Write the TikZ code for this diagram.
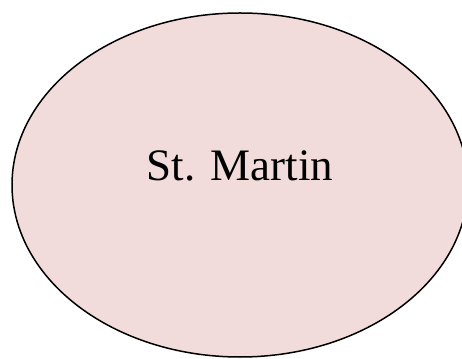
\documentclass[tikz,border=0pt]{standalone}
\usepackage{fontspec}
\setmainfont{Liberation Serif}
\usetikzlibrary{shapes.geometric, positioning}

\tikzset{
	island/.style={shape=ellipse, draw, line width=1.5pt, fill=islandpink, minimum width=456pt, minimum height=344pt, inner sep=0pt},
	islandname/.style={font=\fontsize{45}{50}\selectfont, text=black}
}
\definecolor{islandpink}{HTML}{F2DCDB}

\begin{document}
\begin{tikzpicture}[x=1pt, y=1pt]
			% Frame and clipping:
			\useasboundingbox (0, 0) rectangle (462, 358);
			\clip (0, 0) rectangle (462, 358);
			% Island and its name:
			\node[island](N1) at (240, 173){};
			\node[islandname](N2) at ([yshift=19pt]N1.center){St. Martin};
		\end{tikzpicture}
\end{document}
